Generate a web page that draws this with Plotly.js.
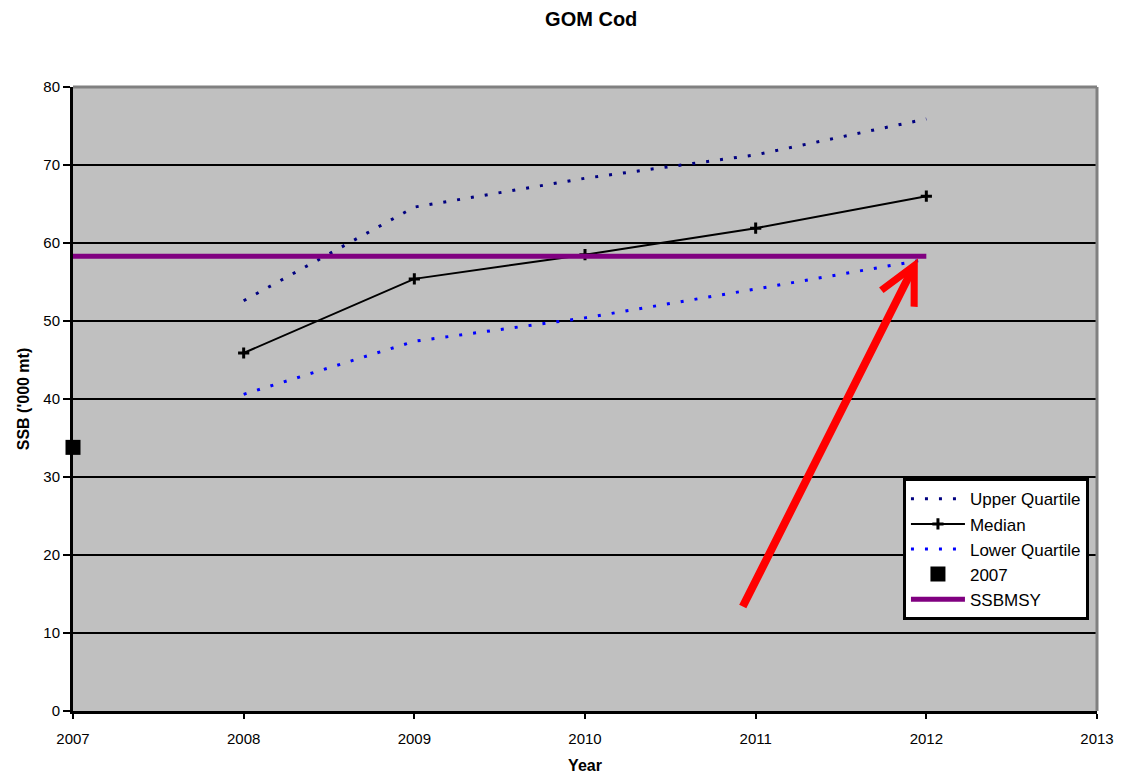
<!DOCTYPE html>
<html>
<head>
<meta charset="utf-8">
<script src="https://cdn.plot.ly/plotly-3.0.1.min.js"></script>
<style>html,body{margin:0;padding:0;background:#fff;}#chart{width:1124px;height:774px;}</style>
</head>
<body>
<div id="chart"></div>
<script>
// ---- data ----
const years = [2008, 2009, 2010, 2011, 2012];
const upperQuartile = [52.6, 64.6, 68.3, 71.3, 75.9];
const median = [45.9, 55.4, 58.5, 61.9, 66.0];
const lowerQuartile = [40.6, 47.4, 50.4, 54.1, 57.9];
const year2007 = [2007];
const value2007 = [33.8];
const msyYears = [2007, 2012];
const ssbMsy = [58.3, 58.3];
const arrowTail = {x: 2010.92, y: 13.2};
const arrowTip = {x: 2011.95, y: 58.0};
const yTicks = [0, 10, 20, 30, 40, 50, 60, 70, 80];
const xTicks = [2007, 2008, 2009, 2010, 2011, 2012, 2013];

const FONT = 'Liberation Sans, Arial, sans-serif';

const traces = [
  {x: years, y: upperQuartile, name: 'Upper Quartile', mode: 'lines', legendgroup: 'a',
   line: {color: '#000080', width: 3, dash: '3px,11px'}},
  {x: years, y: median, name: 'Median', mode: 'lines+markers', legendgroup: 'b',
   line: {color: '#000000', width: 2},
   marker: {symbol: 'cross-thin', size: 8, color: '#000000', line: {color: '#000000', width: 3}}},
  {x: years, y: lowerQuartile, name: 'Lower Quartile', mode: 'lines', legendgroup: 'c',
   line: {color: '#0000ff', width: 3, dash: '3px,11px'}},
  {x: year2007, y: value2007, name: '2007', mode: 'markers', legendgroup: 'd', cliponaxis: false,
   marker: {symbol: 'square', size: 15, color: '#000000'}},
  {x: msyYears, y: ssbMsy, name: 'SSBMSY', mode: 'lines', legendgroup: 'e',
   line: {color: '#800080', width: 5}}
];

const layout = {
  width: 1124, height: 774,
  margin: {l: 73, r: 27, t: 87, b: 63},
  paper_bgcolor: '#ffffff',
  plot_bgcolor: '#c0c0c0',
  showlegend: true,
  font: {family: FONT, color: '#000', size: 15},
  title: {text: '<b>GOM Cod</b>', font: {family: FONT, size: 20, color: '#000'},
          x: 0.526, xref: 'container', xanchor: 'center', y: 0.975, yref: 'container', yanchor: 'middle'},
  xaxis: {
    range: [2007, 2013], tickvals: xTicks, ticktext: xTicks.map(String),
    showgrid: false, zeroline: false, showline: true, linecolor: '#000', linewidth: 3,
    ticks: 'outside', ticklen: 5, tickwidth: 2, tickcolor: '#000',
    ticklabelstandoff: 7,
    tickfont: {family: FONT, size: 15, color: '#000'},
    title: {text: '<b>Year</b>', font: {family: FONT, size: 16, color: '#000'}, standoff: 15}
  },
  yaxis: {
    range: [0, 80], tickvals: yTicks,
    showgrid: true, gridcolor: '#000', gridwidth: 2,
    zeroline: false, showline: true, linecolor: '#000', linewidth: 3,
    ticks: 'outside', ticklen: 7, tickwidth: 2, tickcolor: '#000',
    ticklabelstandoff: 0,
    tickfont: {family: FONT, size: 15, color: '#000'},
    title: {text: "<b>SSB ('000 mt)</b>", font: {family: FONT, size: 16, color: '#000'}, standoff: 10}
  },
  legend: {
    x: 0.8105, y: 0.373, xanchor: 'left', yanchor: 'top',
    bgcolor: '#ffffff', bordercolor: '#000', borderwidth: 3,
    font: {family: FONT, size: 17, color: '#000'},
    traceorder: 'grouped', tracegroupgap: 0, itemwidth: 54
  },
  shapes: [
    {type: 'line', xref: 'paper', yref: 'paper', x0: 0, x1: 1, y0: 1, y1: 1,
     line: {color: '#808080', width: 3}, layer: 'above'},
    {type: 'line', xref: 'paper', yref: 'paper', x0: 1, x1: 1, y0: 0, y1: 1,
     line: {color: '#808080', width: 3}, layer: 'above'}
  ],
  annotations: [
    {x: arrowTip.x, y: arrowTip.y, xref: 'x', yref: 'y',
     ax: arrowTail.x, ay: arrowTail.y, axref: 'x', ayref: 'y',
     text: '', showarrow: true, arrowhead: 5, arrowsize: 0.9, arrowwidth: 8, arrowcolor: '#ff0000'}
  ]
};

Plotly.newPlot('chart', traces, layout, {displayModeBar: false, staticPlot: true});
</script>
</body>
</html>
